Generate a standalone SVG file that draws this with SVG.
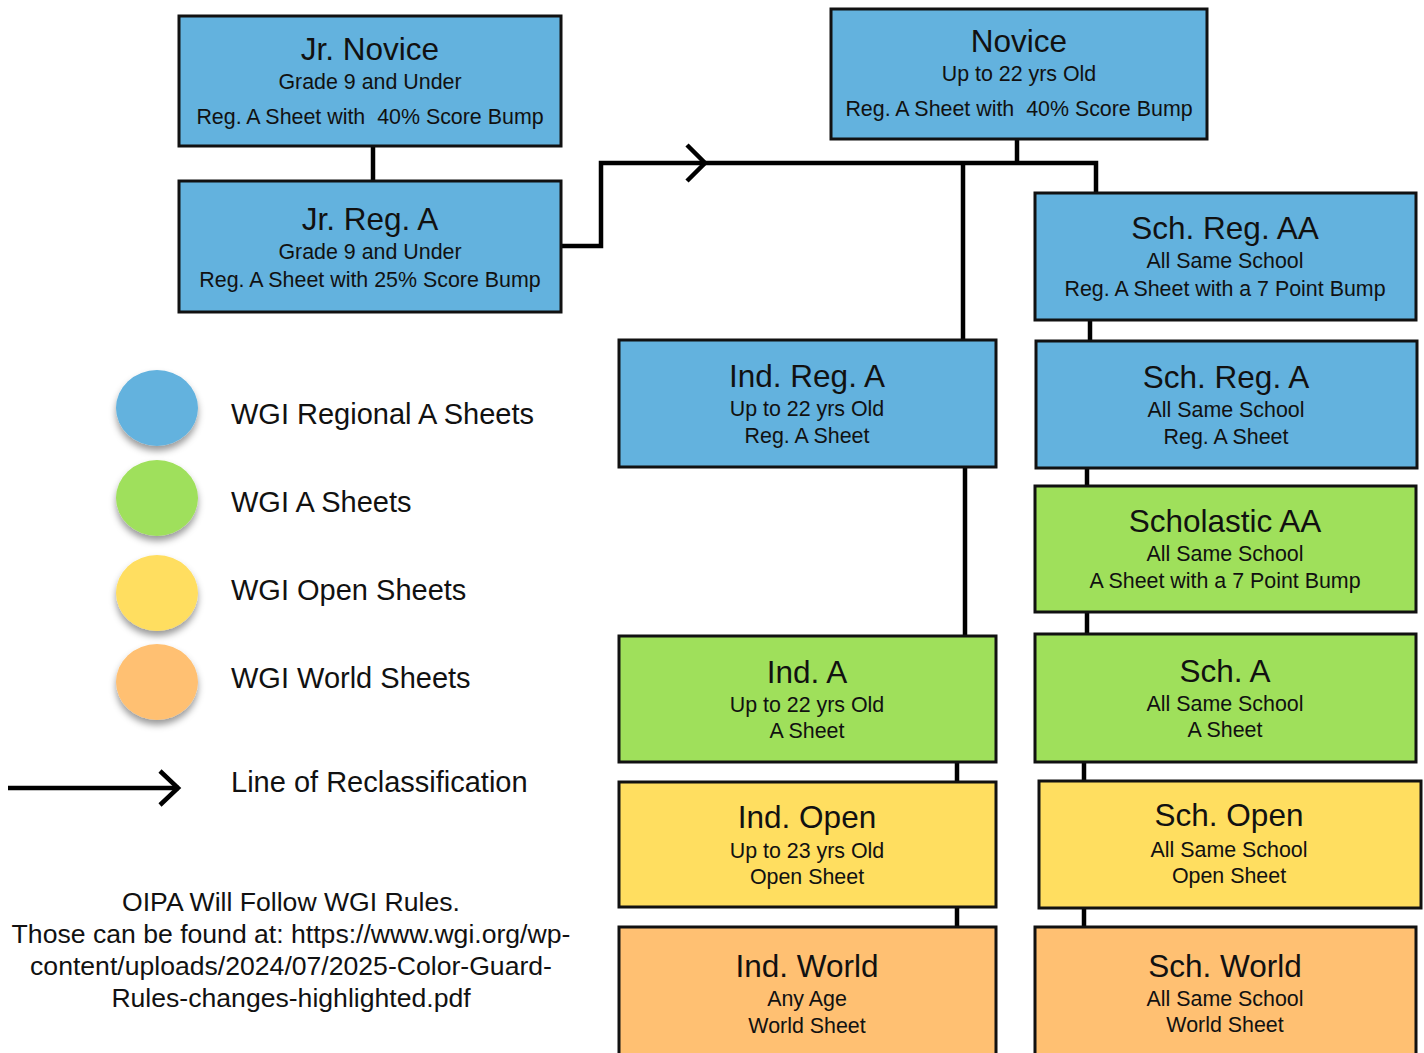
<svg xmlns="http://www.w3.org/2000/svg" width="1424" height="1053" viewBox="0 0 1424 1053">
<defs>
<filter id="sh" x="-30%" y="-30%" width="160%" height="170%">
<feDropShadow dx="0" dy="5" stdDeviation="3.5" flood-color="#000" flood-opacity="0.4"/>
</filter>
<style>
.box{stroke:#111;stroke-width:3}
.blue{fill:#63B2DE}
.green{fill:#9FE05B}
.yellow{fill:#FFDE60}
.orange{fill:#FFC072}
text{font-family:"Liberation Sans",Arial,sans-serif;fill:#111;text-anchor:middle}
.t{font-size:31.5px}
.s{font-size:21.4px}
.lg{font-size:29px;text-anchor:start}
.ft{font-size:26.6px}
.c{fill:none;stroke:#000;stroke-width:4.5}
</style>
</defs>
<rect width="1424" height="1053" fill="#fff"/>

<g id="connectors">
<path class="c" d="M373,146V181"/>
<path class="c" d="M561,246H601V163H1096V193"/>
<polyline class="c" points="687,145 705,163 687,181"/>
<path class="c" d="M1017,139V163"/>
<path class="c" d="M963,163V340"/>
<path class="c" d="M965,467V636"/>
<path class="c" d="M957,762V782"/>
<path class="c" d="M957,907V927"/>
<path class="c" d="M1090,320V341"/>
<path class="c" d="M1087,468V486"/>
<path class="c" d="M1087,612V634"/>
<path class="c" d="M1084,762V781"/>
<path class="c" d="M1084,908V927"/>
</g>

<g id="jr-novice">
<rect class="box blue" x="179" y="16" width="382" height="130"/>
<text class="t" x="370" y="60">Jr. Novice</text>
<text class="s" x="370" y="89">Grade 9 and Under</text>
<text class="s" x="370" y="124" xml:space="preserve">Reg. A Sheet with  40% Score Bump</text>
</g>

<g id="jr-reg-a">
<rect class="box blue" x="179" y="181" width="382" height="131"/>
<text class="t" x="370" y="230">Jr. Reg. A</text>
<text class="s" x="370" y="259">Grade 9 and Under</text>
<text class="s" x="370" y="287">Reg. A Sheet with 25% Score Bump</text>
</g>

<g id="novice">
<rect class="box blue" x="831" y="9" width="376" height="130"/>
<text class="t" x="1019" y="52">Novice</text>
<text class="s" x="1019" y="81">Up to 22 yrs Old</text>
<text class="s" x="1019" y="116" xml:space="preserve">Reg. A Sheet with  40% Score Bump</text>
</g>

<g id="sch-reg-aa">
<rect class="box blue" x="1035" y="193" width="381" height="127"/>
<text class="t" x="1225" y="239">Sch. Reg. AA</text>
<text class="s" x="1225" y="268">All Same School</text>
<text class="s" x="1225" y="296">Reg. A Sheet with a 7 Point Bump</text>
</g>

<g id="ind-reg-a">
<rect class="box blue" x="619" y="340" width="377" height="127"/>
<text class="t" x="807" y="387">Ind. Reg. A</text>
<text class="s" x="807" y="416">Up to 22 yrs Old</text>
<text class="s" x="807" y="443">Reg. A Sheet</text>
</g>

<g id="sch-reg-a">
<rect class="box blue" x="1036" y="341" width="381" height="127"/>
<text class="t" x="1226" y="388">Sch. Reg. A</text>
<text class="s" x="1226" y="417">All Same School</text>
<text class="s" x="1226" y="444">Reg. A Sheet</text>
</g>

<g id="scholastic-aa">
<rect class="box green" x="1035" y="486" width="381" height="126"/>
<text class="t" x="1225" y="532">Scholastic AA</text>
<text class="s" x="1225" y="561">All Same School</text>
<text class="s" x="1225" y="588">A Sheet with a 7 Point Bump</text>
</g>

<g id="ind-a">
<rect class="box green" x="619" y="636" width="377" height="126"/>
<text class="t" x="807" y="683">Ind. A</text>
<text class="s" x="807" y="712">Up to 22 yrs Old</text>
<text class="s" x="807" y="738">A Sheet</text>
</g>

<g id="sch-a">
<rect class="box green" x="1035" y="634" width="381" height="128"/>
<text class="t" x="1225" y="682">Sch. A</text>
<text class="s" x="1225" y="711">All Same School</text>
<text class="s" x="1225" y="737">A Sheet</text>
</g>

<g id="ind-open">
<rect class="box yellow" x="619" y="782" width="377" height="125"/>
<text class="t" x="807" y="828">Ind. Open</text>
<text class="s" x="807" y="858">Up to 23 yrs Old</text>
<text class="s" x="807" y="884">Open Sheet</text>
</g>

<g id="sch-open">
<rect class="box yellow" x="1039" y="781" width="382" height="127"/>
<text class="t" x="1229" y="826">Sch. Open</text>
<text class="s" x="1229" y="857">All Same School</text>
<text class="s" x="1229" y="883">Open Sheet</text>
</g>

<g id="ind-world">
<rect class="box orange" x="619" y="927" width="377" height="140"/>
<text class="t" x="807" y="977">Ind. World</text>
<text class="s" x="807" y="1006">Any Age</text>
<text class="s" x="807" y="1033">World Sheet</text>
</g>

<g id="sch-world">
<rect class="box orange" x="1035" y="927" width="381" height="140"/>
<text class="t" x="1225" y="977">Sch. World</text>
<text class="s" x="1225" y="1006">All Same School</text>
<text class="s" x="1225" y="1032">World Sheet</text>
</g>

<g id="legend">
<ellipse class="blue" cx="157" cy="408" rx="41" ry="38" filter="url(#sh)"/>
<ellipse class="green" cx="157" cy="498" rx="41" ry="38" filter="url(#sh)"/>
<ellipse class="yellow" cx="157" cy="593" rx="41" ry="38" filter="url(#sh)"/>
<ellipse class="orange" cx="157" cy="682" rx="41" ry="38" filter="url(#sh)"/>
<text class="lg" x="231" y="424">WGI Regional A Sheets</text>
<text class="lg" x="231" y="512">WGI A Sheets</text>
<text class="lg" x="231" y="600">WGI Open Sheets</text>
<text class="lg" x="231" y="688">WGI World Sheets</text>
<path class="c" d="M8,788H179"/>
<polyline class="c" points="160,771 178,788 160,805"/>
<text class="lg" x="231" y="792">Line of Reclassification</text>
</g>

<g id="footer">
<text class="ft" x="291" y="911">OIPA Will Follow WGI Rules.</text>
<text class="ft" x="291" y="943">Those can be found at: https://www.wgi.org/wp-</text>
<text class="ft" x="291" y="975">content/uploads/2024/07/2025-Color-Guard-</text>
<text class="ft" x="291" y="1007">Rules-changes-highlighted.pdf</text>
</g>
</svg>
